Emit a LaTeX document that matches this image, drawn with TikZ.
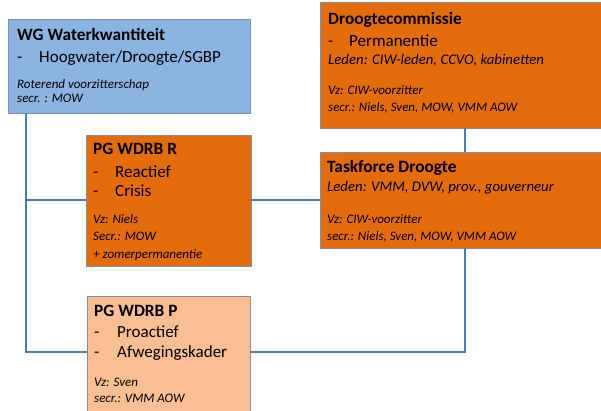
\documentclass[tikz,border=0pt]{standalone}
\usepackage{fontspec}
\setmainfont{Carlito}
\definecolor{bluefill}{HTML}{8DB3E2}
\definecolor{orangefill}{HTML}{E46C0A}
\definecolor{lightorange}{HTML}{F9BE91}
\definecolor{boxline}{HTML}{7F8FA6}
\definecolor{conn}{HTML}{4A7EBB}
\begin{document}
\begin{tikzpicture}[x=1pt,y=-1pt,
  box/.style={draw=boxline,line width=0.9pt,anchor=north west,inner sep=0pt,outer sep=0pt},
  ttl/.style={anchor=base west,inner sep=0pt,font=\fontsize{17.3}{20}\selectfont\bfseries},
  itm/.style={anchor=base west,inner sep=0pt,font=\fontsize{17}{20}\selectfont},
  sml/.style={anchor=base west,inner sep=0pt,font=\fontsize{13}{15}\selectfont\itshape},
  mid/.style={anchor=base west,inner sep=0pt,font=\fontsize{14.8}{17}\selectfont\itshape},
  wire/.style={draw=conn,line width=1.1pt}]
\useasboundingbox (0,0) rectangle (601,410);
% boxes
\node[box,fill=bluefill,minimum width=242pt,minimum height=94pt] (wg) at (8,19) {};
\node[box,fill=orangefill,minimum width=290pt,minimum height=126pt] (dc) at (320,2) {};
\node[box,fill=orangefill,minimum width=290pt,minimum height=96pt] (tf) at (320,152) {};
\node[box,fill=orangefill,minimum width=165pt,minimum height=131pt] (pgr) at (86,135) {};
\node[box,fill=lightorange,minimum width=163pt,minimum height=124pt] (pgp) at (87,296) {};
% connectors
\coordinate (j1) at (26,200);
\coordinate (j2) at (26,352);
\coordinate (k1) at (465,140);
\coordinate (k2) at (465,352);
\draw[wire] (wg.south -| j1) -- (j2) -- (pgp.west |- j2);
\draw[wire] (j1) -- (pgr.west |- j1);
\draw[wire] (pgr.east |- j1) -- (tf.west |- j1);
\draw[wire] (dc.south -| k1) -- (tf.north -| k1);
\draw[wire] (tf.south -| k2) -- (k2) -- (pgp.east |- k2);
% WG texts
\node[ttl] (wg1) at (17,40.5) {WG Waterkwantiteit};
\node[itm] (wg2a) at (17,62) {-};
\node[itm] (wg2b) at (39,62) {Hoogwater/Droogte/SGBP};
\node[sml] (wg3) at (17,88) {Roterend voorzitterschap};
\node[sml] (wg4) at (17,102) {secr. : MOW};
% Droogtecommissie texts
\node[ttl] (dc1) at (328,24) {Droogtecommissie};
\node[itm] (dc2a) at (328,46) {-};
\node[itm] (dc2b) at (349,46) {Permanentie};
\node[mid] (dc3) at (328,64) {Leden: CIW-leden, CCVO, kabinetten};
\node[sml] (dc4) at (328,94) {Vz: CIW-voorzitter};
\node[sml] (dc5) at (328,111) {secr.: Niels, Sven, MOW, VMM AOW};
% Taskforce texts
\node[ttl] (tf1) at (327,172) {Taskforce Droogte};
\node[mid] (tf2) at (327,191) {Leden: VMM, DVW, prov., gouverneur};
\node[sml] (tf3) at (327,223) {Vz: CIW-voorzitter};
\node[sml] (tf4) at (327,240) {secr.: Niels, Sven, MOW, VMM AOW};
% PG WDRB R texts
\node[ttl] (r1) at (93,154) {PG WDRB R};
\node[itm] (r2a) at (93,177) {-};
\node[itm] (r2b) at (115,177) {Reactief};
\node[itm] (r3a) at (93,196) {-};
\node[itm] (r3b) at (115,196) {Crisis};
\node[sml] (r4) at (93,223) {Vz: Niels};
\node[sml] (r5) at (93,240) {Secr.: MOW};
\node[sml] (r6) at (93,258) {+ zomerpermanentie};
% PG WDRB P texts
\node[ttl] (p1) at (94,316) {PG WDRB P};
\node[itm] (p2a) at (94,337) {-};
\node[itm] (p2b) at (117,337) {Proactief};
\node[itm] (p3a) at (94,357) {-};
\node[itm] (p3b) at (117,357) {Afwegingskader};
\node[sml] (p4) at (94,386) {Vz: Sven};
\node[sml] (p5) at (94,402) {secr.: VMM AOW};
\end{tikzpicture}
\end{document}
